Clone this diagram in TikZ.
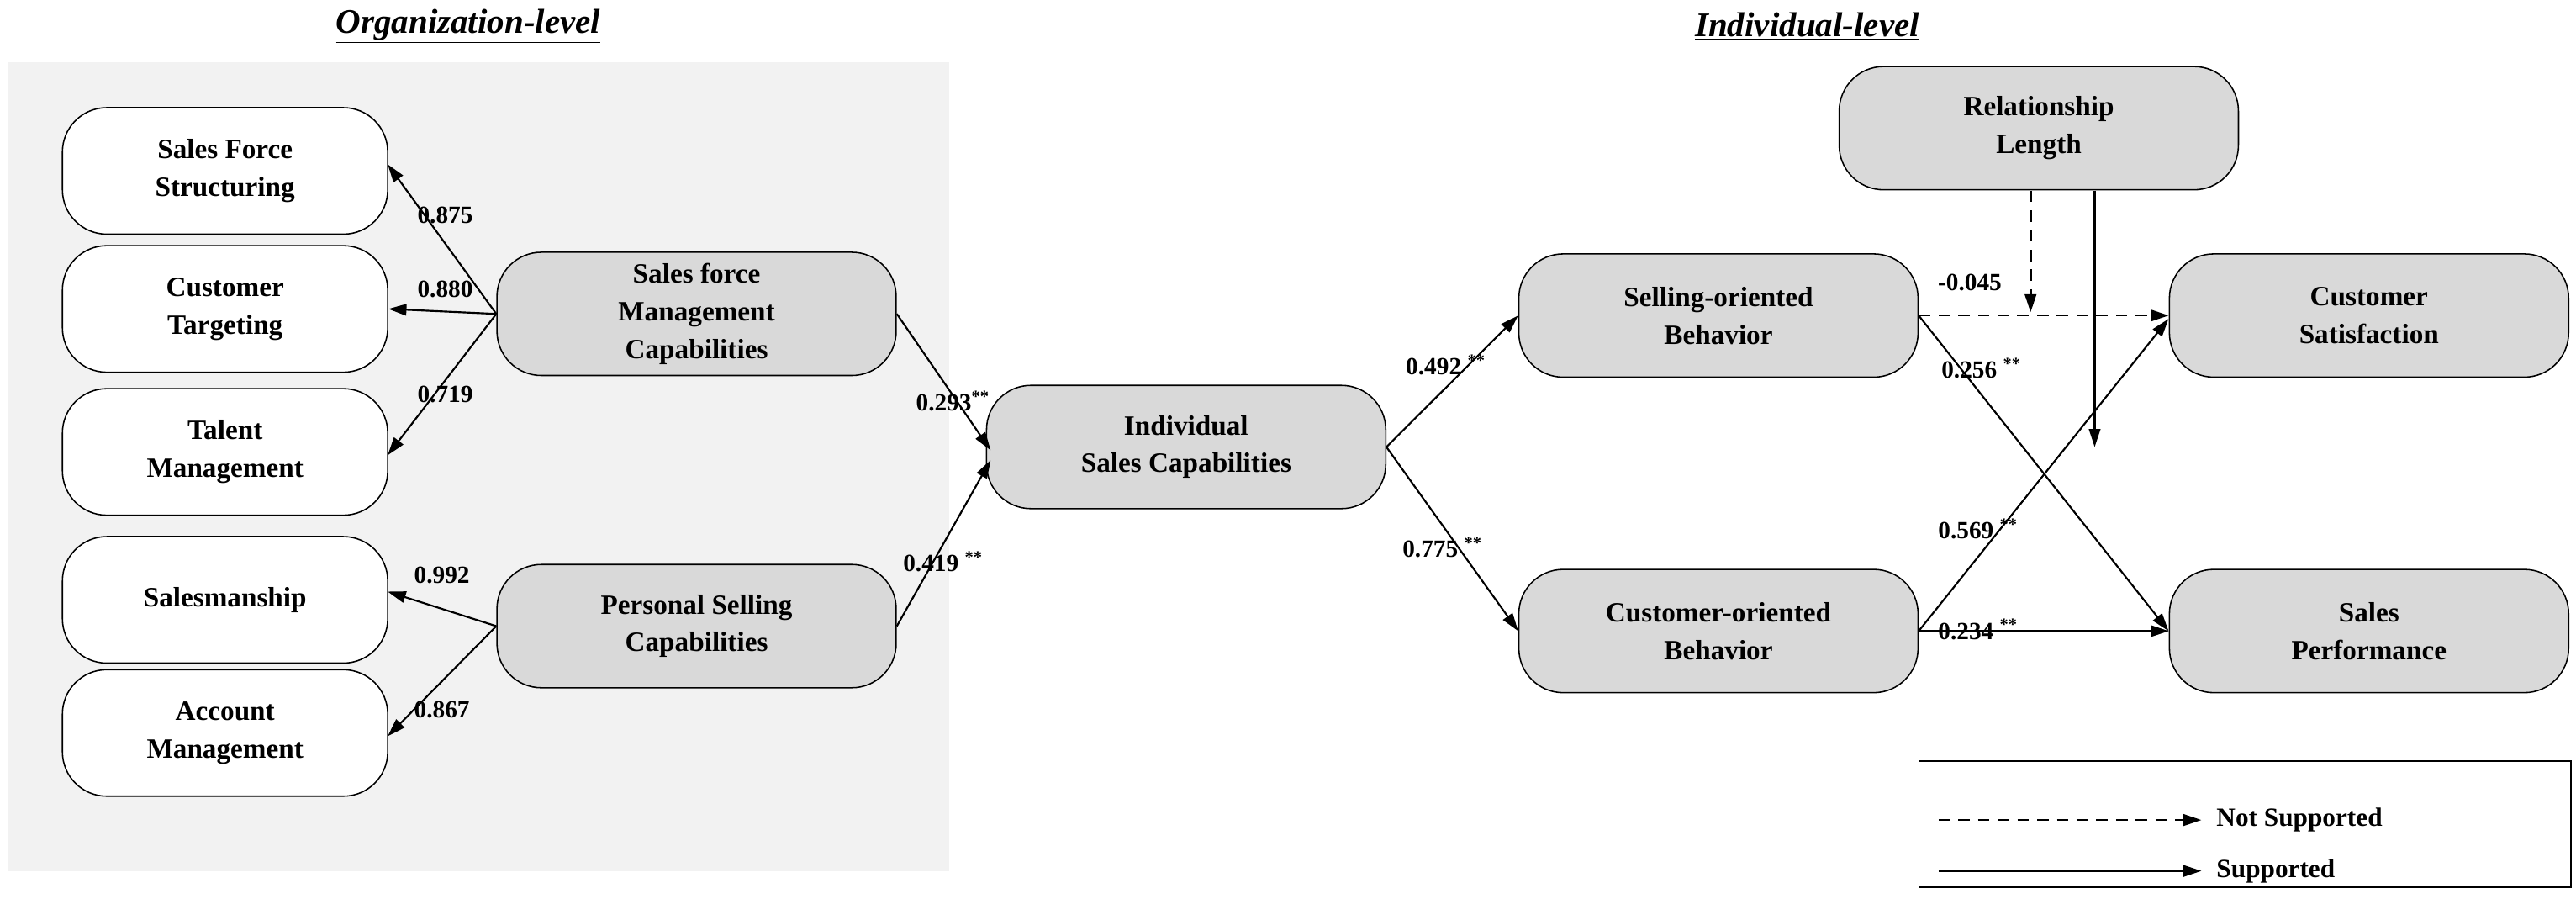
\documentclass[tikz,border=0pt]{standalone}
\usepackage{fontspec}
\setmainfont{Liberation Serif}
\usetikzlibrary{arrows.meta}
\definecolor{bg}{HTML}{F2F2F2}
\definecolor{nodegray}{HTML}{D9D9D9}
\begin{document}
\begin{tikzpicture}[x=1pt,y=-1pt,
  box/.style={draw,line width=0.8pt,rounded corners=27pt,minimum width=198pt,minimum height=77pt,align=center,font=\fontsize{17}{23}\selectfont\bfseries,fill=white},
  gbox/.style={box,fill=nodegray,minimum width=243pt,minimum height=75pt},
  arr/.style={-{Triangle[length=11pt,width=7pt]},line width=1.1pt},
  dsh/.style={dash pattern=on 7pt off 5pt,line width=1.3pt},
  lab/.style={font=\fontsize{15}{16}\selectfont\bfseries,inner sep=1pt},
  ttl/.style={font=\fontsize{21}{24}\selectfont\bfseries\itshape}]
\useasboundingbox (0,0) rectangle (1568,547);
\fill[bg] (5,38) rectangle (578,530);
\node[ttl] (t1) at (285,16) {\underline{Organization-level}};
\node[ttl] (t2) at (1100,16) {\underline{Individual-level}};
\node[box] (sfs) at (137,104) {Sales Force\\Structuring};
\node[box] (ct) at (137,188) {Customer\\Targeting};
\node[box] (tm) at (137,275) {Talent\\Management};
\node[box] (sm) at (137,365) {Salesmanship};
\node[box] (am) at (137,446) {Account\\Management};
\node[gbox] (sfmc) at (424,191) {Sales force\\Management\\Capabilities};
\node[gbox] (psc) at (424,381) {Personal Selling\\Capabilities};
\node[gbox] (isc) at (722,272) {Individual\\Sales Capabilities};
\node[gbox] (sob) at (1046,192) {Selling-oriented\\Behavior};
\node[gbox] (cob) at (1046,384) {Customer-oriented\\Behavior};
\node[gbox] (rl) at (1241,78) {Relationship\\Length};
\node[gbox] (cs) at (1442,192) {Customer\\Satisfaction};
\node[gbox] (sp) at (1442,384) {Sales\\Performance};
% loadings
\draw[arr] (sfmc.west) -- (236,100);
\draw[arr] (sfmc.west) -- (ct.east);
\draw[arr] (sfmc.west) -- (236,277);
\draw[arr] (psc.west) -- (236,360);
\draw[arr] (psc.west) -- (236,448);
\node[lab] (l1) at (271,131) {0.875};
\node[lab] (l2) at (271,176) {0.880};
\node[lab] (l3) at (271,240) {0.719};
\node[lab] (l4) at (269,350) {0.992};
\node[lab] (l5) at (269,432) {0.867};
% structural
\draw[arr] (sfmc.east) -- (603,274);
\draw[arr] (psc.east) -- (603,280);
\draw[arr] (isc.east) -- (sob.west);
\draw[arr] (isc.east) -- (cob.west);
\draw[arr,dsh] (sob.east) -- (cs.west);
\draw[arr] (sob.east) -- (1320,384);
\draw[arr] (cob.east) -- (1320,194);
\draw[arr] (cob.east) -- (sp.west);
\coordinate (m1) at (1236,190);
\coordinate (m2) at (1275,272);
\draw[arr,dsh] (1236,116) -- (m1);
\draw[arr] (1275,116) -- (m2);
\node[lab] (l6) at (580,244) {0.293\textsuperscript{**}};
\node[lab] (l7) at (574,342) {0.419 \textsuperscript{**}};
\node[lab] (l8) at (880,222) {0.492 \textsuperscript{**}};
\node[lab] (l9) at (878,333) {0.775 \textsuperscript{**}};
\node[lab] (l10) at (1199,172) {-0.045};
\node[lab] (l11) at (1206,224) {0.256 \textsuperscript{**}};
\node[lab] (l12) at (1204,322) {0.569 \textsuperscript{**}};
\node[lab] (l13) at (1204,383) {0.234 \textsuperscript{**}};
% legend
\draw[line width=0.8pt] (1168,463) rectangle (1565,540);
\coordinate (a1) at (1180,499); \coordinate (a2) at (1340,499);
\coordinate (b1) at (1180,530); \coordinate (b2) at (1340,530);
\draw[arr,dsh] (a1) -- (a2);
\draw[arr] (b1) -- (b2);
\node[lab,anchor=west,font=\fontsize{16}{18}\selectfont\bfseries] (n1) at (1348,499) {Not Supported};
\node[lab,anchor=west,font=\fontsize{16}{18}\selectfont\bfseries] (n2) at (1348,530) {Supported};
\end{tikzpicture}
\end{document}
